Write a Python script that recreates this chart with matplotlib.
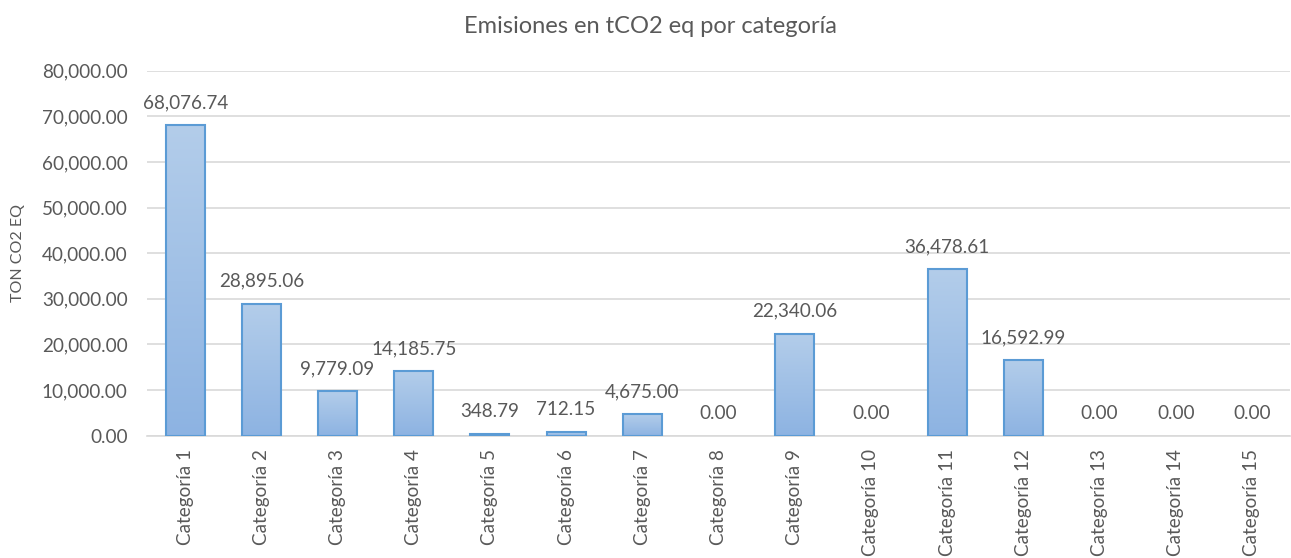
import matplotlib
matplotlib.use("Agg")
import matplotlib.pyplot as plt
import numpy as np
from matplotlib.colors import LinearSegmentedColormap

categories = [f"Categoría {i}" for i in range(1, 16)]
values = [68076.74, 28895.06, 9779.09, 14185.75, 348.79, 712.15, 4675.00, 0.00,
          22340.06, 0.00, 36478.61, 16592.99, 0.00, 0.00, 0.00]
title = "Emisiones en tCO2 eq por categoría"
ylabel = "TON CO2 EQ"
yticks = [0, 10000, 20000, 30000, 40000, 50000, 60000, 70000, 80000]

plt.rcParams['font.family'] = ['Lato', 'DejaVu Sans']
txt = '#595959'

fig = plt.figure(figsize=(12.91, 5.58), dpi=100)
ax = fig.add_axes([0.1139, 0.2195, 0.8853, 0.6538])

x = np.arange(len(categories))
width = 0.51
cmap = LinearSegmentedColormap.from_list('g', ['#8db3e2', '#b3cdea'])
grad = np.linspace(0, 1, 256).reshape(-1, 1)

edges = ['#5b9bd5' if v > 0 else 'none' for v in values]
bars = ax.bar(x, values, width=width, facecolor='none', edgecolor=edges,
              linewidth=1.5, zorder=3)
for b, v in zip(bars, values):
    if v <= 0:
        continue
    x0 = b.get_x()
    im = ax.imshow(grad, cmap=cmap, aspect='auto', origin='lower',
                   extent=[x0, x0 + b.get_width(), 0, v], zorder=2)
    im.set_clip_path(b)

for xi, v in zip(x, values):
    ax.annotate(f"{v:,.2f}", (xi, v), xytext=(0, 10), textcoords='offset points',
                ha='center', va='bottom', fontsize=13.6, color=txt)

ax.set_xlim(-0.5, len(categories) - 0.5)
ax.set_ylim(0, 80000)
ax.set_yticks(yticks)
ax.set_yticklabels([f"{t:,.2f}" for t in yticks], fontsize=13.6, color=txt)
ax.set_xticks(x)
ax.set_xticklabels(categories, rotation=90, fontsize=13.6, color=txt)
ax.tick_params(axis='both', length=0)
ax.tick_params(axis='y', pad=14)
ax.tick_params(axis='x', pad=10)
ax.grid(axis='y', color='#d9d9d9', linewidth=1.2, zorder=0)
ax.set_axisbelow(True)
for s in ['top', 'right', 'left']:
    ax.spines[s].set_visible(False)
ax.spines['bottom'].set_color('#d9d9d9')
ax.spines['bottom'].set_linewidth(1.2)

ax.set_ylabel(ylabel, fontsize=11.5, color=txt, labelpad=12)
fig.text(0.504, 0.952, title, ha='center', va='center', fontsize=17, color=txt)

fig.savefig('out.png', dpi=100)
